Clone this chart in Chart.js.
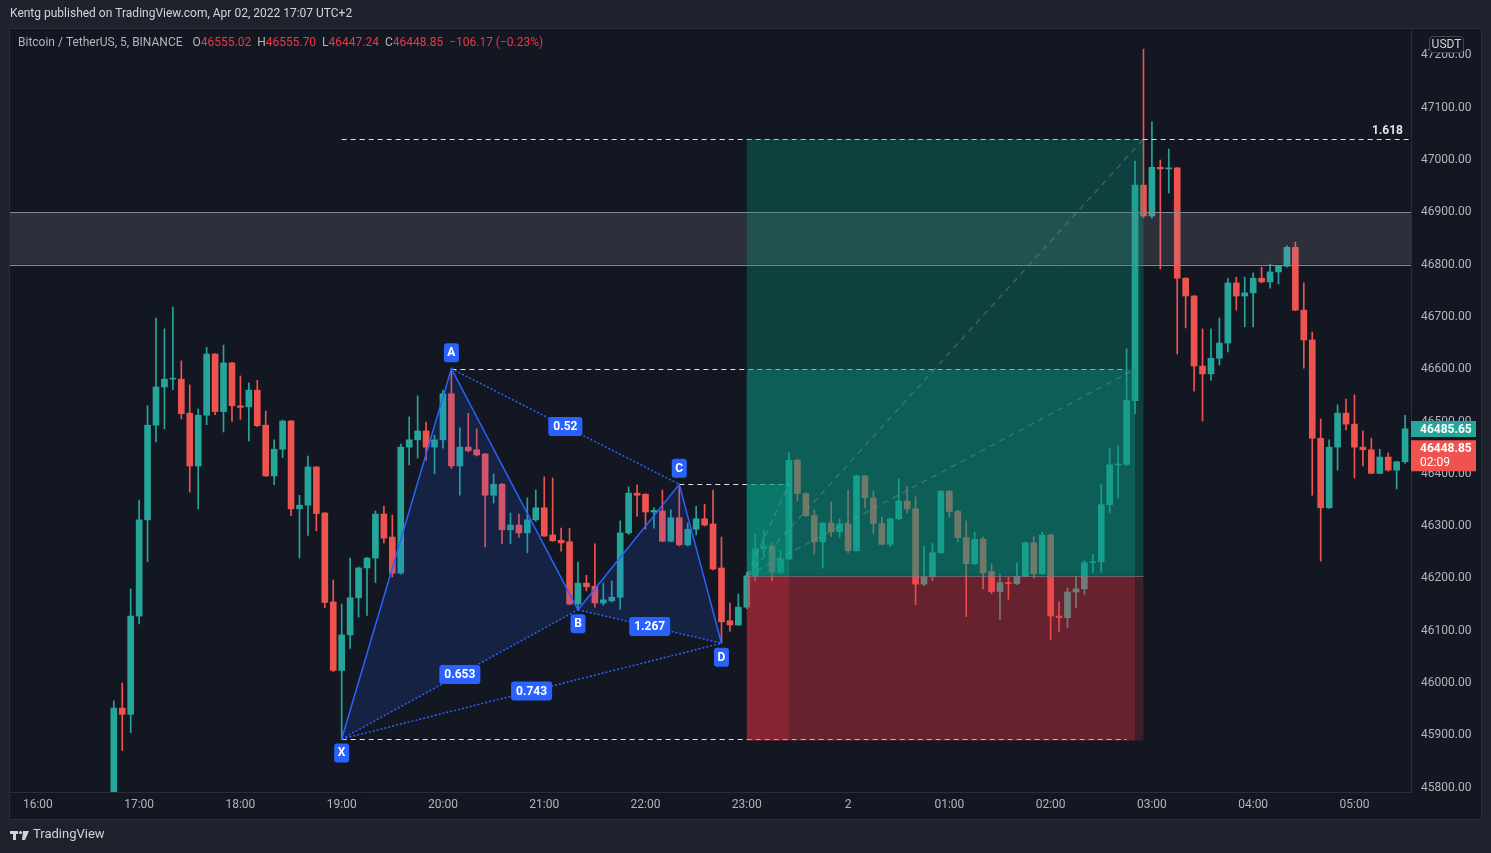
<!DOCTYPE html>
<html>
<head>
<meta charset="utf-8">
<title>BTCUSDT 5m</title>
<script src="https://cdn.jsdelivr.net/npm/chart.js@4.4.1/dist/chart.umd.min.js"></script>
<style>
  html, body { margin: 0; padding: 0; background: #1e222d; }
  canvas { display: block; }
</style>
</head>
<body>
<canvas id="chart" width="1491" height="853"></canvas>
<script>
// Bitcoin / TetherUS, 5 min candles, first bar at 16:45
const firstBar = '16:45';
const barMinutes = 5;

const opens = [
  45760, 45952, 45940, 46128, 46312, 46493, 46566, 46581, 46581, 46516, 46415, 46512,
  46629, 46519, 46612, 46530, 46528, 46560, 46493, 46396, 46447, 46501, 46333, 46340,
  46413, 46325, 46155, 46024, 46092, 46163, 46220, 46239, 46323, 46279, 46210, 46451,
  46465, 46482, 46451, 46465, 46553, 46415, 46451, 46446, 46438, 46359, 46380, 46293,
  46302, 46287, 46312, 46335, 46283, 46273, 46270, 46151, 46191, 46185, 46153, 46157,
  46164, 46287, 46363, 46361, 46327, 46329, 46271, 46316, 46264, 46294, 46314, 46304,
  46220, 46119, 46111, 46145, 46205, 46257, 46262, 46212, 46237, 46426, 46362, 46320,
  46270, 46306, 46289, 46304, 46253, 46396, 46354, 46305, 46265, 46314, 46348, 46333,
  46189, 46203, 46249, 46367, 46328, 46278, 46228, 46275, 46213, 46175, 46192, 46190,
  46204, 46268, 46209, 46283, 46128, 46125, 46174, 46180, 46230, 46232, 46341, 46417,
  46418, 46540, 46952, 46893, 46986, 46983, 46985, 46774, 46740, 46606, 46591, 46621,
  46650, 46765, 46740, 46746, 46774, 46767, 46786, 46797, 46833, 46713, 46656, 46468,
  46335, 46451, 46516, 46495, 46451, 46446, 46401, 46432, 46407, 46423
];
const highs = [
  45966, 46000, 46180, 46350, 46530, 46698, 46677, 46719, 46616, 46570, 46524, 46642,
  46630, 46646, 46613, 46587, 46574, 46579, 46520, 46465, 46503, 46502, 46359, 46434,
  46414, 46326, 46197, 46151, 46239, 46222, 46240, 46329, 46338, 46321, 46457, 46509,
  46549, 46499, 46474, 46560, 46601, 46488, 46516, 46486, 46439, 46400, 46382, 46325,
  46323, 46354, 46369, 46394, 46392, 46296, 46296, 46231, 46206, 46266, 46191, 46195,
  46310, 46375, 46379, 46362, 46335, 46369, 46331, 46380, 46306, 46338, 46342, 46369,
  46279, 46153, 46170, 46212, 46285, 46293, 46268, 46254, 46440, 46428, 46364, 46331,
  46307, 46346, 46314, 46369, 46398, 46397, 46367, 46317, 46315, 46390, 46375, 46356,
  46262, 46268, 46368, 46368, 46331, 46310, 46289, 46279, 46228, 46208, 46202, 46230,
  46270, 46280, 46288, 46285, 46155, 46182, 46204, 46234, 46246, 46380, 46449, 46453,
  46639, 46998, 47212, 47073, 47000, 47021, 46986, 46775, 46741, 46677, 46677, 46698,
  46774, 46776, 46776, 46784, 46795, 46801, 46798, 46836, 46843, 46765, 46671, 46505,
  46465, 46532, 46543, 46551, 46482, 46468, 46447, 46440, 46424, 46512
];
const lows = [
  45750, 45871, 45905, 46113, 46232, 46461, 46486, 46561, 46505, 46365, 46333, 46494,
  46513, 46480, 46500, 46504, 46463, 46490, 46395, 46379, 46431, 46320, 46239, 46282,
  46291, 46144, 46022, 45893, 46066, 46126, 46129, 46192, 46268, 46203, 46208, 46417,
  46430, 46426, 46400, 46449, 46410, 46359, 46442, 46434, 46260, 46344, 46266, 46266,
  46279, 46249, 46309, 46280, 46271, 46252, 46150, 46140, 46176, 46145, 46149, 46155,
  46141, 46284, 46319, 46294, 46296, 46270, 46270, 46262, 46262, 46283, 46300, 46216,
  46076, 46099, 46110, 46142, 46195, 46245, 46195, 46210, 46235, 46348, 46318, 46247,
  46220, 46280, 46278, 46249, 46252, 46335, 46286, 46264, 46261, 46312, 46325, 46150,
  46186, 46196, 46248, 46318, 46270, 46127, 46226, 46180, 46171, 46121, 46160, 46188,
  46203, 46201, 46207, 46083, 46098, 46106, 46144, 46170, 46211, 46212, 46326, 46354,
  46416, 46515, 46890, 46889, 46792, 46937, 46629, 46679, 46558, 46501, 46579, 46608,
  46633, 46713, 46681, 46681, 46765, 46755, 46763, 46795, 46712, 46602, 46359, 46233,
  46334, 46407, 46484, 46392, 46415, 46400, 46400, 46405, 46371, 46420
];
const closes = [
  45952, 45940, 46128, 46312, 46493, 46566, 46581, 46582, 46515, 46415, 46512, 46629,
  46519, 46612, 46530, 46527, 46560, 46492, 46396, 46447, 46501, 46333, 46340, 46413,
  46324, 46154, 46024, 46092, 46163, 46220, 46239, 46323, 46277, 46210, 46451, 46465,
  46482, 46451, 46465, 46553, 46415, 46451, 46444, 46436, 46359, 46380, 46293, 46302,
  46287, 46312, 46335, 46281, 46272, 46268, 46151, 46191, 46184, 46153, 46159, 46164,
  46287, 46363, 46359, 46327, 46330, 46271, 46316, 46264, 46294, 46314, 46302, 46218,
  46117, 46111, 46145, 46205, 46257, 46262, 46212, 46237, 46426, 46362, 46320, 46270,
  46306, 46289, 46304, 46253, 46396, 46354, 46305, 46265, 46314, 46348, 46333, 46189,
  46203, 46249, 46367, 46328, 46278, 46228, 46275, 46211, 46175, 46192, 46190, 46204,
  46268, 46209, 46283, 46128, 46125, 46174, 46180, 46230, 46232, 46341, 46417, 46418,
  46540, 46952, 46893, 46986, 46983, 46985, 46774, 46740, 46606, 46591, 46621, 46650,
  46765, 46740, 46746, 46774, 46767, 46786, 46797, 46833, 46713, 46656, 46468, 46335,
  46451, 46516, 46495, 46451, 46446, 46401, 46432, 46407, 46423, 46486
];

// axis labels
const hourTimes = ['16:00', '17:00', '18:00', '19:00', '20:00', '21:00', '22:00', '23:00',
                   '00:00', '01:00', '02:00', '03:00', '04:00', '05:00'];
const hourLabels = ['16:00', '17:00', '18:00', '19:00', '20:00', '21:00', '22:00', '23:00',
                    '2', '01:00', '02:00', '03:00', '04:00', '05:00'];
const priceTicks = [45800, 45900, 46000, 46100, 46200, 46300, 46400, 46500,
                    46600, 46700, 46800, 46900, 47000, 47100, 47200];

// XABCD pattern
const patternNames = ['X', 'A', 'B', 'C', 'D'];
const patternTimes = ['19:00', '20:05', '21:20', '22:20', '22:45'];
const patternPrices = [45893, 46601, 46140, 46380, 46076];
const ratioFrom = [0, 1, 2, 0];
const ratioTo = [2, 3, 4, 4];
const ratioTexts = ['0.653', '0.52', '1.267', '0.743'];

// long positions: entry / stop shared
const entryPrice = 46205;
const stopPrice = 45890;
const positionStart = ['23:00', '23:00', '23:00'];
const positionEnd = ['02:55', '02:50', '23:25'];
const positionTarget = [47040, 46600, 46380];

// horizontal dashed levels
const levelFrom = ['19:00', '20:05', '22:20', '19:00'];
const levelTo = [null, '02:45', '23:25', '02:45'];
const levelPrice = [47040, 46600, 46380, 45893];

// grey supply zone
const zoneLow = 46800;
const zoneHigh = 46900;

// last price marks
const lastMarks = [46485.65, 46448.85];
const headerValues = ['46555.02', '46555.70', '46447.24', '46448.85'];

const UP = '#26a69a';
const DOWN = '#ef5350';

function barIndex(t) {
  const parts = t.split(':').map(Number);
  return (((parts[0] * 60 + parts[1]) - 16 * 60 + 1440) % 1440) / barMinutes;
}

const start = barIndex(firstBar);
const bodies = opens.map((o, k) => ({ x: start + k, y: [o, closes[k]] }));
const wicks = opens.map((o, k) => ({ x: start + k, y: [lows[k], highs[k]] }));
const colors = opens.map((o, k) => closes[k] >= o ? UP : DOWN);

function roundRect(c, x, y, w, h, r) {
  c.beginPath();
  c.moveTo(x + r, y);
  c.arcTo(x + w, y, x + w, y + h, r);
  c.arcTo(x + w, y + h, x, y + h, r);
  c.arcTo(x, y + h, x, y, r);
  c.arcTo(x, y, x + w, y, r);
  c.closePath();
}

function blueTag(c, text, cx, cy, w) {
  c.font = 'bold 12px Roboto';
  const tw = w || c.measureText(text).width + 10;
  c.fillStyle = '#2962ff';
  roundRect(c, cx - tw / 2, cy - 9.5, tw, 19, 3);
  c.fill();
  c.fillStyle = '#ffffff';
  c.textAlign = 'center';
  c.textBaseline = 'middle';
  c.fillText(text, cx, cy + 0.5);
}

const drawings = {
  id: 'drawings',
  beforeDraw(chart) {
    const c = chart.ctx;
    const a = chart.chartArea;
    c.save();
    c.fillStyle = '#1e222d';
    c.fillRect(0, 0, chart.width, chart.height);
    c.fillStyle = '#131722';
    c.fillRect(a.left, a.top - 1, a.right - a.left + 70, a.bottom - a.top + 28);
    c.strokeStyle = '#2a2e39';
    c.lineWidth = 1;
    c.strokeRect(a.left - 0.5, a.top - 1.5, a.right - a.left + 71, a.bottom - a.top + 29);
    c.restore();
  },
  afterDatasetsDraw(chart) {
    const c = chart.ctx;
    const a = chart.chartArea;
    const xs = chart.scales.x;
    const ys = chart.scales.y;
    const px = t => xs.getPixelForValue(barIndex(t));
    const py = p => ys.getPixelForValue(p);

    c.save();
    c.beginPath();
    c.rect(a.left, a.top, a.right - a.left, a.bottom - a.top);
    c.clip();

    // dashed levels
    c.strokeStyle = '#e0e3eb';
    c.lineWidth = 1;
    c.setLineDash([5, 4]);
    levelPrice.forEach((p, k) => {
      const y = Math.round(py(p)) + 0.5;
      c.beginPath();
      c.moveTo(px(levelFrom[k]), y);
      c.lineTo(levelTo[k] ? px(levelTo[k]) : a.right, y);
      c.stroke();
    });
    c.setLineDash([]);

    // grey zone
    c.fillStyle = 'rgba(149,152,161,0.2)';
    c.fillRect(a.left, py(zoneHigh), a.right - a.left, py(zoneLow) - py(zoneHigh));
    c.strokeStyle = '#868993';
    [zoneHigh, zoneLow].forEach(p => {
      const y = Math.round(py(p)) + 0.5;
      c.beginPath();
      c.moveTo(a.left, y);
      c.lineTo(a.right, y);
      c.stroke();
    });

    // position boxes
    const greenAlpha = [0.32, 0.34, 0.45];
    const redAlpha = [0.2, 0.22, 0.23];
    positionTarget.forEach((tp, k) => {
      const x0 = px(positionStart[k]);
      const x1 = px(positionEnd[k]);
      c.fillStyle = 'rgba(8,153,129,' + greenAlpha[k] + ')';
      c.fillRect(x0, py(tp), x1 - x0, py(entryPrice) - py(tp));
      c.fillStyle = 'rgba(242,54,69,' + redAlpha[k] + ')';
      c.fillRect(x0, py(entryPrice), x1 - x0, py(stopPrice) - py(entryPrice));
    });
    c.strokeStyle = 'rgba(120,123,134,0.7)';
    c.beginPath();
    c.moveTo(px(positionStart[0]), Math.round(py(entryPrice)) + 0.5);
    c.lineTo(px(positionEnd[0]), Math.round(py(entryPrice)) + 0.5);
    c.stroke();

    // diagonals inside positions
    c.strokeStyle = 'rgba(150,152,160,0.35)';
    c.lineWidth = 1.5;
    c.setLineDash([6, 5]);
    positionTarget.forEach((tp, k) => {
      c.beginPath();
      c.moveTo(px(positionStart[k]), py(entryPrice));
      c.lineTo(px(positionEnd[k]), py(tp));
      c.stroke();
    });
    c.setLineDash([]);

    // XABCD pattern
    const P = patternTimes.map((t, k) => [px(t), py(patternPrices[k])]);
    c.fillStyle = 'rgba(41,98,255,0.15)';
    [[0, 1, 2], [2, 3, 4]].forEach(tri => {
      c.beginPath();
      c.moveTo(P[tri[0]][0], P[tri[0]][1]);
      c.lineTo(P[tri[1]][0], P[tri[1]][1]);
      c.lineTo(P[tri[2]][0], P[tri[2]][1]);
      c.closePath();
      c.fill();
    });
    c.strokeStyle = '#2962ff';
    c.lineWidth = 1.5;
    c.beginPath();
    P.forEach((p, k) => k ? c.lineTo(p[0], p[1]) : c.moveTo(p[0], p[1]));
    c.stroke();
    c.setLineDash([2, 2]);
    ratioFrom.forEach((f, k) => {
      c.beginPath();
      c.moveTo(P[f][0], P[f][1]);
      c.lineTo(P[ratioTo[k]][0], P[ratioTo[k]][1]);
      c.stroke();
    });
    c.setLineDash([]);
    ratioFrom.forEach((f, k) => {
      const t = ratioTo[k];
      blueTag(c, ratioTexts[k], (P[f][0] + P[t][0]) / 2, (P[f][1] + P[t][1]) / 2);
    });
    P.forEach((p, k) => {
      const below = patternPrices[k] < (k ? patternPrices[k - 1] : Infinity);
      blueTag(c, patternNames[k], p[0], p[1] + (below ? 14 : -16), 15);
    });

    // fib label
    c.font = 'bold 12px Roboto';
    c.fillStyle = '#e0e3eb';
    c.textAlign = 'right';
    c.textBaseline = 'bottom';
    c.fillText('1.618', a.right - 8, py(levelPrice[0]) - 2);
    c.restore();
  },
  afterDraw(chart) {
    const c = chart.ctx;
    const a = chart.chartArea;
    const ys = chart.scales.y;
    c.save();

    // publisher line
    c.font = '12px Roboto';
    c.fillStyle = '#d1d4dc';
    c.textAlign = 'left';
    c.textBaseline = 'middle';
    c.fillText('Kentg published on TradingView.com, Apr 02, 2022 17:07 UTC+2', 10, 14);

    // symbol legend
    let x = a.left + 8;
    const y = a.top + 13;
    c.fillStyle = '#b2b5be';
    c.fillText('Bitcoin / TetherUS, 5, BINANCE', x, y);
    x += c.measureText('Bitcoin / TetherUS, 5, BINANCE').width + 10;
    ['O', 'H', 'L', 'C'].forEach((k, i) => {
      c.fillStyle = '#b2b5be';
      c.fillText(k, x, y);
      x += c.measureText(k).width;
      c.fillStyle = '#f23645';
      c.fillText(headerValues[i], x, y);
      x += c.measureText(headerValues[i]).width + 6;
    });
    c.fillText('\u2212106.17 (\u22120.23%)', x, y);

    // USDT badge
    c.fillStyle = '#131722';
    roundRect(c, a.right + 18.5, a.top + 6.5, 34, 16, 3);
    c.fill();
    c.strokeStyle = '#434651';
    c.stroke();
    c.fillStyle = '#d1d4dc';
    c.textAlign = 'center';
    c.fillText('USDT', a.right + 35.5, a.top + 15);

    // last price marks
    const yg = ys.getPixelForValue(lastMarks[0]);
    c.fillStyle = UP;
    c.fillRect(a.right, yg - 8, 65, 16);
    const yr = ys.getPixelForValue(lastMarks[1]);
    c.fillStyle = DOWN;
    c.fillRect(a.right, yr - 8, 65, 31);
    c.font = 'bold 12px Roboto';
    c.fillStyle = '#ffffff';
    c.textAlign = 'left';
    c.fillText(lastMarks[0].toFixed(2), a.right + 9, yg + 0.5);
    c.fillText(lastMarks[1].toFixed(2), a.right + 9, yr + 0.5);
    c.font = '12px Roboto';
    c.fillText('02:09', a.right + 9, yr + 15);

    // footer logo
    const fy = chart.height - 18;
    c.fillStyle = '#d1d4dc';
    c.fillRect(10, fy - 4, 8, 3);
    c.fillRect(13, fy - 4, 3, 9);
    c.beginPath();
    c.arc(20.5, fy - 2.5, 1.6, 0, Math.PI * 2);
    c.fill();
    c.beginPath();
    c.moveTo(23, fy - 4);
    c.lineTo(29, fy - 4);
    c.lineTo(25, fy + 5);
    c.lineTo(22, fy + 5);
    c.closePath();
    c.fill();
    c.font = '13px Roboto';
    c.textAlign = 'left';
    c.fillText('TradingView', 33, fy);
    c.restore();
  }
};

Chart.defaults.font.family = 'Roboto';
Chart.defaults.font.size = 12;

new Chart(document.getElementById('chart'), {
  type: 'bar',
  data: {
    datasets: [
      {
        data: bodies,
        backgroundColor: colors,
        barThickness: 6,
        minBarLength: 1,
        grouped: false
      },
      {
        data: wicks,
        backgroundColor: colors,
        barThickness: 1,
        grouped: false
      }
    ]
  },
  options: {
    responsive: false,
    animation: false,
    devicePixelRatio: 1,
    layout: { padding: { left: 10, top: 30, right: 10, bottom: 34 } },
    plugins: {
      legend: { display: false },
      tooltip: { enabled: false }
    },
    scales: {
      x: {
        type: 'linear',
        min: -3.3,
        max: 162.7,
        offset: false,
        grid: { display: false, drawTicks: false },
        border: { display: true, color: '#2a2e39' },
        afterBuildTicks: axis => {
          axis.ticks = hourTimes.map(t => ({ value: barIndex(t) }));
        },
        afterFit: axis => { axis.height = 27; },
        ticks: {
          color: '#b2b5be',
          padding: 6,
          autoSkip: false,
          maxRotation: 0,
          callback: (v, i) => hourLabels[i]
        }
      },
      y: {
        type: 'linear',
        position: 'right',
        min: 45791.6,
        max: 47248.6,
        grid: { display: false, drawTicks: false },
        border: { display: true, color: '#2a2e39' },
        afterBuildTicks: axis => {
          axis.ticks = priceTicks.map(v => ({ value: v }));
        },
        afterFit: axis => { axis.width = 70; },
        ticks: {
          color: '#b2b5be',
          padding: 10,
          callback: v => v.toFixed(2)
        }
      }
    }
  },
  plugins: [drawings]
});
</script>
</body>
</html>
